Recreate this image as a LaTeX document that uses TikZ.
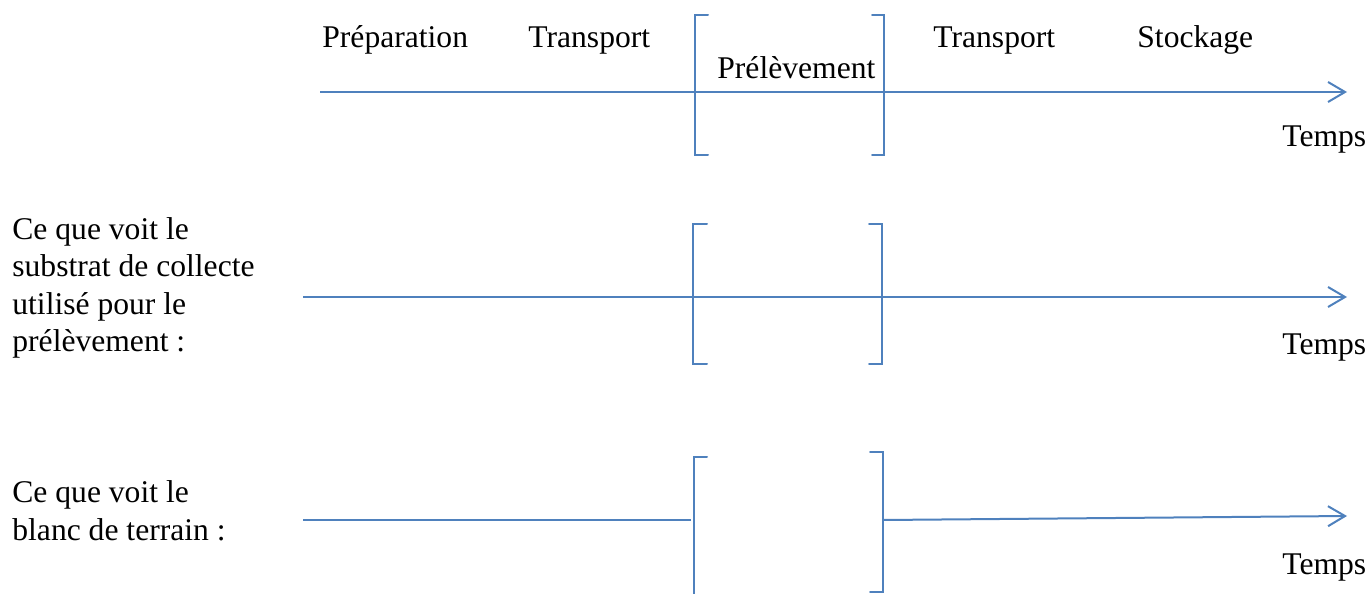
\documentclass[tikz,border=0pt]{standalone}
\usepackage{fontspec}
\setmainfont{Liberation Serif}
\usetikzlibrary{arrows.meta}
\definecolor{lineblue}{HTML}{4F81BD}
\tikzset{
  lbl/.style={inner sep=0pt, anchor=base west, font=\fontsize{15.8}{18.7}\selectfont},
  multi/.style={lbl, align=left, anchor=north west},
  axis/.style={draw=lineblue, line width=1pt, -{Straight Barb[length=8.5pt, width=10pt, line width=1pt]}},
  plain/.style={draw=lineblue, line width=1pt},
  brk/.style={draw=lineblue, line width=1pt, line cap=round},
}
\begin{document}
\begin{tikzpicture}[x=0.5pt, y=-0.5pt]
\useasboundingbox (0,0) rectangle (1372,594);
% ---------- Row 1 ----------
\coordinate (s1) at (320,92);
\coordinate (e1) at (1347,92);
\draw[axis] (s1) -- (e1);
\draw[brk] (708,15) -- (695,15) -- (695,155) -- (708,155);
\draw[brk] (872,15) -- (884,15) -- (884,155) -- (872,155);
\node[lbl] (prep) at (322,47) {Préparation};
\node[lbl] (tr1) at (528,47) {Transport};
\node[lbl] (prel) at (717,78) {Prélèvement};
\node[lbl] (tr2) at (933,47) {Transport};
\node[lbl] (stock) at (1137,47) {Stockage};
\node[lbl] (t1) at (1282,146) {Temps};
% ---------- Row 2 ----------
\coordinate (s2) at (303,297);
\coordinate (e2) at (1347,297);
\draw[axis] (s2) -- (e2);
\draw[brk] (707,224) -- (693,224) -- (693,364) -- (707,364);
\draw[brk] (869,224) -- (882,224) -- (882,364) -- (869,364);
\node[lbl] (c1a) at (12,239) {Ce que voit le};
\node[lbl] (c1b) at (12,276.5) {substrat de collecte};
\node[lbl] (c1c) at (12,314) {utilisé pour le};
\node[lbl] (c1d) at (12,351) {prélèvement :};
\node[lbl] (t2) at (1282,354) {Temps};
% ---------- Row 3 ----------
\coordinate (s3) at (303,520);
\coordinate (m3) at (691,520);
\coordinate (r3) at (883,520);
\coordinate (e3) at (1347,516);
\draw[plain, line width=1.3pt] (s3) -- (m3);
\draw[axis] (r3) -- (e3);
\draw[brk] (707,457) -- (694,457) -- (694,594);
\draw[brk] (870,452) -- (883,452) -- (883,592) -- (870,592);
\node[lbl] (c2a) at (12,502) {Ce que voit le};
\node[lbl] (c2b) at (12,540) {blanc de terrain :};
\node[lbl] (t3) at (1282,574) {Temps};
\end{tikzpicture}
\end{document}
